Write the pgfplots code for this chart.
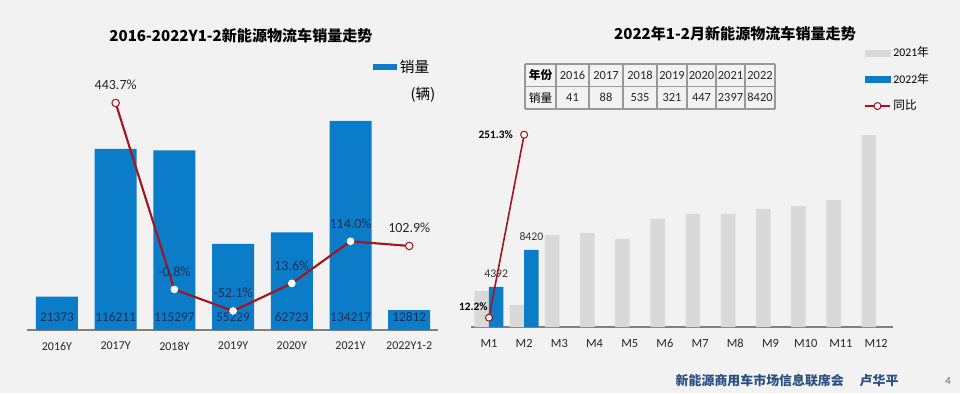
\documentclass[border=0pt]{standalone}
\usepackage{fontspec}
\setmainfont{Carlito}
\newfontfamily\cjk{Noto Sans CJK SC}
\usepackage{pgfplots}
\pgfplotsset{compat=1.18}
\definecolor{bg}{HTML}{F2F2F2}
\definecolor{barblue}{HTML}{0A7CC8}
\definecolor{lgray}{HTML}{D9D9D9}
\definecolor{lred}{HTML}{A3161F}
\definecolor{navy}{HTML}{1F3157}
\definecolor{footblue}{HTML}{2B4F81}
\begin{document}
\begin{tikzpicture}[x=0.75pt,y=-0.75pt]
\useasboundingbox (0,0) rectangle (960,393);
\fill[bg] (0,0) rectangle (960,393);
% titles
\node[font=\cjk\bfseries\fontsize{11.3}{13}\selectfont] at (241,36) {2016-2022Y1-2新能源物流车销量走势};
\node[font=\cjk\bfseries\fontsize{11.3}{13}\selectfont] at (735,34) {2022年1-2月新能源物流车销量走势};
% ---------- left chart ----------
\begin{axis}[at={(27*0.75pt,-330*0.75pt)}, anchor=south west, scale only axis,
  width=411*0.75pt, height=270*0.75pt,
  xmin=-0.51, xmax=6.49, ymin=0, ymax=173340,
  axis x line=bottom, axis y line=none,
  x axis line style={-, draw=black!50, line width=0.8pt},
  xtick={0,...,6}, xticklabels={2016Y,2017Y,2018Y,2019Y,2020Y,2021Y,2022Y1-2},
  major tick length=0pt,
  xticklabel style={font=\fontsize{9}{11}\selectfont, text=black!85, yshift=-5.5pt},
  ytick=\empty, clip=false,
  legend style={at={(0.842,0.974)}, anchor=west, draw=none, fill=none, inner sep=0pt,
    font=\cjk\fontsize{11}{13}\selectfont},
  ]
\addplot[ybar, bar width=31.5pt, fill=barblue, draw=none,
  legend image code/.code={\fill[barblue] (0pt,-2.25pt) rectangle (18pt,2.25pt);}]
  coordinates {(0,21373)(1,116211)(2,115297)(3,55229)(4,62723)(5,134217)(6,12812)};
\addlegendentry{销量}
\addplot[draw=none, mark=none, nodes near coords, point meta=explicit symbolic,
  nodes near coords style={anchor=center, yshift=9.75pt, font=\fontsize{10}{12}\selectfont, text=navy}, forget plot]
  coordinates {(0,0)[21373] (1,0)[116211] (2,0)[115297] (3,0)[55229] (4,0)[62723] (5,0)[134217] (6,0)[12812]};
\end{axis}
\node[anchor=west, font=\cjk\fontsize{11}{13}\selectfont] at (406,95) {(辆)};
\begin{axis}[at={(27*0.75pt,-330*0.75pt)}, anchor=south west, scale only axis,
  width=411*0.75pt, height=270*0.75pt,
  xmin=-0.51, xmax=6.49, ymin=-97.5, ymax=546.2,
  hide axis, clip=false]
\addplot[lred, line width=1.6pt, mark=*, mark size=2.6pt,
  mark options={fill=white, draw=white, line width=0.5pt}]
  coordinates {(1,443.7) (2,-0.8) (3,-52.1) (4,13.6) (5,114.0) (6,102.9)};
\addplot[only marks, mark=*, mark size=2.8pt, mark options={fill=white, draw=lred, line width=0.8pt}]
  coordinates {(1,443.7)(6,102.9)};
\addplot[draw=none, mark=none, nodes near coords, point meta=explicit symbolic,
  nodes near coords style={anchor=center, yshift=13.5pt, font=\fontsize{10.5}{12}\selectfont, text=navy}]
  coordinates {(2,-0.8)[-0.8\%] (3,-52.1)[-52.1\%] (4,13.6)[13.6\%] (5,114.0)[114.0\%]};
\addplot[draw=none, mark=none, nodes near coords, point meta=explicit symbolic,
  nodes near coords style={anchor=center, yshift=13.5pt, font=\fontsize{10.5}{12}\selectfont, text=black!85}]
  coordinates {(1,443.7)[443.7\%] (6,102.9)[102.9\%]};
\end{axis}
% ---------- right chart ----------
% table
\foreach \x in {525,556,589,623,657,687,716,745,775} {\draw[black!40, line width=0.8pt] (\x,64)--(\x,109);}
\foreach \y in {64,86.5,109} {\draw[black!40, line width=0.8pt] (525,\y)--(775,\y);}
\node[font=\cjk\bfseries\fontsize{8.8}{10}\selectfont] at (540.5,75.3) {年份};
\node[font=\cjk\fontsize{8.8}{10}\selectfont] at (540.5,97.8) {销量};
\foreach \a/\b/\t/\v in {556/589/2016/41, 589/623/2017/88, 623/657/2018/535, 657/687/2019/321, 687/716/2020/447, 716/745/2021/2397, 745/775/2022/8420} {
  \node[font=\fontsize{9.3}{11}\selectfont, text=black!85] at ({(\a+\b)/2},75.3) {\t};
  \node[font=\fontsize{9.3}{11}\selectfont, text=black!85] at ({(\a+\b)/2},97.8) {\v};
}
\begin{axis}[at={(471*0.75pt,-327*0.75pt)}, anchor=south west, scale only axis,
  width=422*0.75pt, height=207*0.75pt,
  xmin=-0.51, xmax=11.48, ymin=0, ymax=22604,
  axis x line=bottom, axis y line=none,
  x axis line style={-, draw=black!50, line width=0.8pt},
  xtick={0,...,11}, xticklabels={M1,M2,M3,M4,M5,M6,M7,M8,M9,M10,M11,M12},
  major tick length=0pt,
  xticklabel style={font=\fontsize{9.3}{11}\selectfont, text=black!85, yshift=-5.5pt},
  ytick=\empty, clip=false,
  ybar=0pt, bar width=10.875pt]
\addplot[fill=lgray, draw=none]
  coordinates {(0,3914)(1,2397)(2,10046)(3,10265)(4,9610)(5,11794)(6,12340)(7,12340)(8,12886)(9,13213)(10,13868)(11,20966)};
\addplot[fill=barblue, draw=none, nodes near coords, point meta=explicit symbolic,
  nodes near coords style={anchor=center, yshift=9.75pt, font=\fontsize{8.8}{10}\selectfont, text=black!80}]
  coordinates {(0,4392)[4392] (1,8420)[8420]};
\end{axis}
\begin{axis}[at={(471*0.75pt,-327*0.75pt)}, anchor=south west, scale only axis,
  width=422*0.75pt, height=207*0.75pt,
  xmin=-0.51, xmax=11.48, ymin=0, ymax=270.5,
  hide axis, clip=false,
  legend style={at={(0.931,1.367)}, anchor=north west, draw=none, fill=none, inner sep=0pt,
    font=\fontsize{8.8}{10}\selectfont, row sep=7pt},
  legend cell align=left]
\addlegendimage{legend image code/.code={\fill[lgray] (0pt,-2.25pt) rectangle (18.75pt,2.25pt);}}
\addlegendentry{2021{\cjk 年}}
\addlegendimage{legend image code/.code={\fill[barblue] (0pt,-2.25pt) rectangle (18.75pt,2.25pt);}}
\addlegendentry{2022{\cjk 年}}
\addplot[lred, line width=1.2pt, mark=*, mark size=2.6pt, mark options={fill=white, draw=lred, line width=0.8pt},
  legend image code/.code={\draw[lred,line width=1.2pt] (0pt,0pt)--(18.75pt,0pt); \draw[lred,fill=white,line width=0.8pt] (9.4pt,0pt) circle (2.6pt);}]
  coordinates {(0,12.2)(1,251.3)};
\addlegendentry{\cjk 同比}
\node[anchor=east, inner sep=0pt, xshift=-8.25pt, font=\bfseries\fontsize{8.5}{10}\selectfont] at (axis cs:1,251.3) {251.3\%};
\node[anchor=east, inner sep=0pt, xshift=-0.75pt, yshift=8.25pt, font=\bfseries\fontsize{8.5}{10}\selectfont] at (axis cs:0,12.2) {12.2\%};
\end{axis}
% footer
\node[anchor=west, font=\cjk\bfseries\fontsize{9.7}{12}\selectfont, text=footblue] at (671,381) {新能源商用车市场信息联席会};
\node[anchor=west, font=\cjk\bfseries\fontsize{9.7}{12}\selectfont, text=footblue] at (855,381) {卢华平};
\node[font=\fontsize{8}{10}\selectfont, text=black!60] at (948,381) {4};
\end{tikzpicture}
\end{document}
